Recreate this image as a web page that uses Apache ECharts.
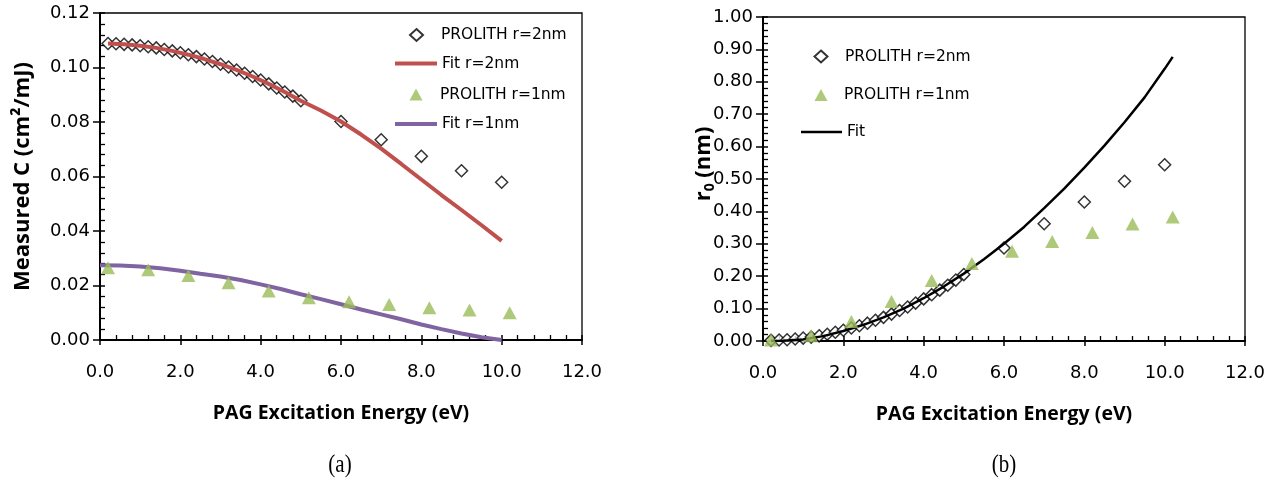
<!DOCTYPE html>
<html>
<head>
<meta charset="utf-8">
<script src="https://cdn.jsdelivr.net/npm/echarts@6/dist/echarts.min.js"></script>
<style>
html, body { margin: 0; padding: 0; background: #fff; }
#chart { width: 1273px; height: 487px; }
</style>
</head>
<body>
<div id="chart"></div>
<script>
// ---- Panel (a): measured C (cm²/mJ) versus PAG excitation energy (eV) ----
const energyR2 = [0.2, 0.4, 0.6, 0.8, 1.0, 1.2, 1.4, 1.6, 1.8, 2.0, 2.2, 2.4, 2.6, 2.8, 3.0,
                  3.2, 3.4, 3.6, 3.8, 4.0, 4.2, 4.4, 4.6, 4.8, 5.0, 6.0, 7.0, 8.0, 9.0, 10.0];
const measuredCR2 = [0.1088, 0.1087, 0.1085, 0.1083, 0.1080, 0.1076, 0.1072, 0.1066, 0.1061, 0.1054,
                     0.1047, 0.1040, 0.1031, 0.1022, 0.1012, 0.1002, 0.0991, 0.0979, 0.0967, 0.0954,
                     0.0940, 0.0925, 0.0910, 0.0895, 0.0878, 0.0802, 0.0735, 0.0674, 0.0621, 0.0579];

const fitEnergyR2 = [0.2, 0.6, 1.0, 1.4, 1.8, 2.2, 2.6, 3.0, 3.4, 3.8, 4.2, 4.6, 5.0,
                     5.5, 6.0, 6.5, 7.0, 7.5, 8.0, 8.5, 9.0, 9.5, 10.0];
const fitCR2 = [0.1088, 0.1085, 0.1080, 0.1072, 0.1061, 0.1047, 0.1031, 0.1012, 0.0991, 0.0967,
                0.0940, 0.0910, 0.0878, 0.0842, 0.0802, 0.0754, 0.0702, 0.0646, 0.0589, 0.0532,
                0.0477, 0.0421, 0.0364];

const energyR1 = [0.2, 1.2, 2.2, 3.2, 4.2, 5.2, 6.2, 7.2, 8.2, 9.2, 10.2];
const measuredCR1 = [0.0265, 0.0258, 0.0237, 0.0210, 0.0180, 0.0155, 0.0140, 0.0130, 0.0118, 0.0110, 0.0100];

const fitEnergyR1 = [0.0, 0.5, 1.0, 1.5, 2.0, 2.5, 3.0, 3.5, 4.0, 4.5, 5.0,
                     5.5, 6.0, 6.5, 7.0, 7.5, 8.0, 8.5, 9.0, 9.5, 10.0];
const fitCR1 = [0.0274, 0.0273, 0.0270, 0.0263, 0.0254, 0.0243, 0.0233, 0.0220, 0.0204, 0.0187, 0.0168,
                0.0150, 0.0131, 0.0112, 0.0094, 0.0076, 0.0057, 0.0040, 0.0024, 0.0010, 0.0000];

// ---- Panel (b): r0 (nm) versus PAG excitation energy (eV) ----
const radiusR2 = [0.002, 0.003, 0.004, 0.006, 0.009, 0.012, 0.016, 0.021, 0.027, 0.033,
                  0.040, 0.047, 0.055, 0.064, 0.073, 0.083, 0.094, 0.105, 0.117, 0.130,
                  0.143, 0.157, 0.172, 0.188, 0.205, 0.287, 0.362, 0.429, 0.493, 0.544];
const radiusR1 = [0.003, 0.016, 0.060, 0.122, 0.187, 0.239, 0.277, 0.307, 0.335, 0.361, 0.383];

const fitEnergyB = [0.2, 0.5, 1.0, 1.5, 2.0, 2.5, 3.0, 3.5, 4.0, 4.5, 5.0,
                    5.5, 6.0, 6.5, 7.0, 7.5, 8.0, 8.5, 9.0, 9.5, 10.0, 10.2];
const fitRadius = [0.000, 0.001, 0.005, 0.015, 0.031, 0.050, 0.073, 0.100, 0.132, 0.168, 0.208,
                   0.252, 0.300, 0.352, 0.410, 0.470, 0.535, 0.603, 0.675, 0.752, 0.840, 0.877];

const legendNamesA = ['PROLITH r=2nm', 'Fit r=2nm', 'PROLITH r=1nm', 'Fit r=1nm'];
const legendNamesB = ['PROLITH r=2nm', 'PROLITH r=1nm', 'Fit'];
const captions = ['(a)', '(b)'];

const pairs = (xs, ys) => xs.map((x, i) => [x, ys[i]]);

const SANS = 'DejaVu Sans';
const BOLD = 'Open Sans';
const RED = '#C0504D', PURPLE = '#8064A2', GREEN = '#9BBB59';

// main axis: line, labels, outward major ticks
function mainX(grid, name) {
  return {
    type: 'value', gridIndex: grid, position: 'bottom', min: 0, max: 12, interval: 2,
    axisLine: { show: true, onZero: false, lineStyle: { color: '#000', width: 2 } },
    axisTick: { show: true, inside: false, length: 5, lineStyle: { color: '#000', width: 1.5 } },
    minorTick: { show: false },
    splitLine: { show: false },
    axisLabel: { margin: 23, color: '#000', fontFamily: SANS, fontSize: 18, formatter: v => v.toFixed(1) },
    name: name, nameLocation: 'middle', nameGap: 63, nameMoveOverlap: false,
    nameTextStyle: { color: '#000', fontFamily: BOLD, fontWeight: 'bold', fontSize: 19.5 }
  };
}
// companion axis: inward major + minor ticks only
function tickX(grid) {
  return {
    type: 'value', gridIndex: grid, position: 'bottom', min: 0, max: 12, interval: 2,
    axisLine: { show: false }, axisLabel: { show: false }, splitLine: { show: false },
    axisTick: { show: true, inside: true, length: 5, lineStyle: { color: '#000', width: 1.5 } },
    minorTick: { show: true, splitNumber: 5, length: 5, lineStyle: { color: '#000', width: 1.3 } }
  };
}
function mainY(grid, max, interval, name, nameGap, extraStyle) {
  return {
    type: 'value', gridIndex: grid, position: 'left', min: 0, max: max, interval: interval,
    axisLine: { show: true, onZero: false, lineStyle: { color: '#000', width: 2 } },
    axisTick: { show: true, inside: false, length: 7, lineStyle: { color: '#000', width: 1.5 } },
    minorTick: { show: false },
    splitLine: { show: false },
    axisLabel: { margin: 10, color: '#000', fontFamily: SANS, fontSize: 18, formatter: v => v.toFixed(2) },
    name: name, nameLocation: 'middle', nameGap: nameGap, nameMoveOverlap: false,
    nameTextStyle: Object.assign({ color: '#000', fontFamily: BOLD, fontWeight: 'bold', fontSize: 22 }, extraStyle || {})
  };
}
function tickY(grid, max, interval) {
  return {
    type: 'value', gridIndex: grid, position: 'left', min: 0, max: max, interval: interval,
    axisLine: { show: false }, axisLabel: { show: false }, splitLine: { show: false },
    axisTick: { show: true, inside: true, length: 5, lineStyle: { color: '#000', width: 1.5 } },
    minorTick: { show: true, splitNumber: 5, length: 5, lineStyle: { color: '#000', width: 1.3 } }
  };
}

const radiusNameStyle = {
  padding: [0, 0, 0, 30],
  rich: {
    r: { fontFamily: BOLD, fontWeight: 'bold', fontSize: 22, lineHeight: 26, verticalAlign: 'middle', color: '#000' },
    s: { fontFamily: BOLD, fontWeight: 'bold', fontSize: 14, lineHeight: 14, verticalAlign: 'bottom', color: '#000' }
  }
};

// one legend entry, placed by icon box and text start
function legendEntry(name, iconLeft, centerY, iconW, iconH, icon, textLeft) {
  const pad = Math.max(0, textLeft - (iconLeft + iconW + 5));
  return {
    orient: 'horizontal', left: iconLeft, top: centerY - 9, padding: 0,
    itemWidth: iconW, itemHeight: iconH, icon: icon, selectedMode: false,
    data: [name],
    textStyle: { color: '#000', fontFamily: SANS, fontSize: 15.5, lineHeight: 18, padding: [0, 0, 0, pad] }
  };
}

const diamondStyle = { color: '#fff', borderColor: '#000', borderWidth: 1.5 };

const option = {
  animation: false,
  backgroundColor: '#fff',
  grid: [
    { left: 100, right: 691, top: 13, bottom: 147, show: true, borderColor: '#000', borderWidth: 1.3,
      backgroundColor: 'transparent', containLabel: false, outerBoundsMode: 'none' },
    { left: 763, right: 28, top: 17, bottom: 146, show: true, borderColor: '#000', borderWidth: 1.3,
      backgroundColor: 'transparent', containLabel: false, outerBoundsMode: 'none' }
  ],
  xAxis: [
    mainX(0, 'PAG Excitation Energy (eV)'), tickX(0),
    mainX(1, 'PAG Excitation Energy (eV)'), tickX(1)
  ],
  yAxis: [
    mainY(0, 0.12, 0.02, 'Measured C (cm²/mJ)', 66), tickY(0, 0.12, 0.02),
    mainY(1, 1.0, 0.1, '{r|r}{s|0}{r| (nm)}', 46, radiusNameStyle), tickY(1, 1.0, 0.1)
  ],
  legend: [
    legendEntry(legendNamesA[0], 409, 35, 13, 12, 'diamond', 440),
    legendEntry(legendNamesA[1], 395, 63.5, 42, 4, 'rect', 440),
    legendEntry(legendNamesA[2], 409.5, 94.5, 13, 12, 'triangle', 440),
    legendEntry(legendNamesA[3], 395, 124, 42, 4, 'rect', 440),
    legendEntry(legendNamesB[0], 813.5, 56.5, 13, 12, 'diamond', 844),
    legendEntry(legendNamesB[1], 814.5, 95, 13, 12, 'triangle', 844),
    legendEntry(legendNamesB[2], 801, 132, 41, 2.5, 'rect', 844)
  ],
  graphic: [
    { type: 'text', x: 340, y: 465, scaleY: 1.2, style: { text: captions[0], fontFamily: 'Liberation Serif', fontSize: 21,
      fill: '#000', align: 'center', verticalAlign: 'middle' } },
    { type: 'text', x: 1004, y: 465, scaleY: 1.2, style: { text: captions[1], fontFamily: 'Liberation Serif', fontSize: 21,
      fill: '#000', align: 'center', verticalAlign: 'middle' } }
  ],
  series: [
    { name: 'PROLITH r=2nm', type: 'scatter', xAxisIndex: 0, yAxisIndex: 0, z: 2,
      symbol: 'diamond', symbolSize: 12, itemStyle: diamondStyle, data: pairs(energyR2, measuredCR2) },
    { name: 'Fit r=2nm', type: 'line', xAxisIndex: 0, yAxisIndex: 0, z: 3, showSymbol: false, symbol: 'none',
      lineStyle: { color: RED, width: 4 }, itemStyle: { color: RED }, data: pairs(fitEnergyR2, fitCR2) },
    { name: 'PROLITH r=1nm', type: 'scatter', xAxisIndex: 0, yAxisIndex: 0, z: 5,
      symbol: 'triangle', symbolSize: [14, 13], itemStyle: { color: GREEN }, data: pairs(energyR1, measuredCR1) },
    { name: 'Fit r=1nm', type: 'line', xAxisIndex: 0, yAxisIndex: 0, z: 3, showSymbol: false, symbol: 'none',
      lineStyle: { color: PURPLE, width: 4 }, itemStyle: { color: PURPLE }, data: pairs(fitEnergyR1, fitCR1) },

    { name: 'PROLITH r=2nm', type: 'scatter', xAxisIndex: 2, yAxisIndex: 2, z: 2,
      symbol: 'diamond', symbolSize: 12, itemStyle: diamondStyle, data: pairs(energyR2, radiusR2) },
    { name: 'PROLITH r=1nm', type: 'scatter', xAxisIndex: 2, yAxisIndex: 2, z: 5,
      symbol: 'triangle', symbolSize: [14, 13], itemStyle: { color: GREEN }, data: pairs(energyR1, radiusR1) },
    { name: 'Fit', type: 'line', xAxisIndex: 2, yAxisIndex: 2, z: 4, showSymbol: false, symbol: 'none',
      lineStyle: { color: '#000', width: 2.5 }, itemStyle: { color: '#000' }, data: pairs(fitEnergyB, fitRadius) }
  ]
};

const chart = echarts.init(document.getElementById('chart'), null, { renderer: 'canvas' });
chart.setOption(option);
</script>
</body>
</html>
